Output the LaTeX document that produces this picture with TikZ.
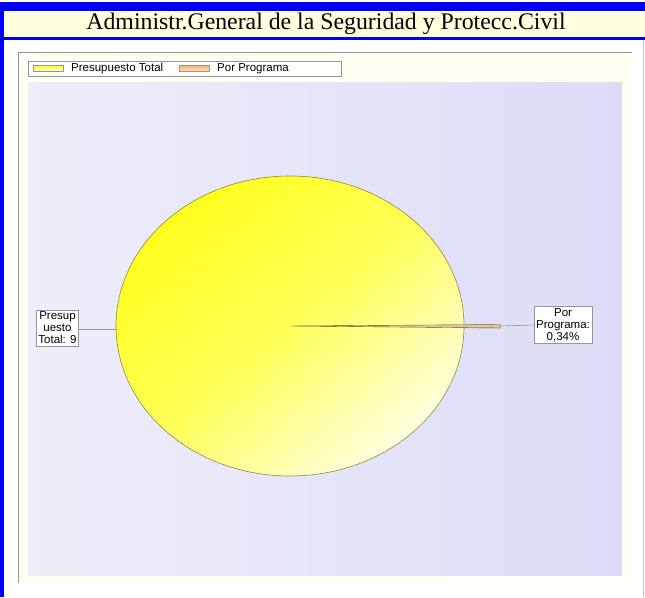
\documentclass[tikz,border=0pt]{standalone}
\usepackage{fontspec}
\setmainfont{Liberation Serif}
\setsansfont{Liberation Sans}
\usepackage{tikz}
\usetikzlibrary{positioning,calc}
\definecolor{frameblue}{RGB}{0,0,250}
\definecolor{titlecream}{RGB}{255,255,222}
\definecolor{panelcream}{RGB}{255,255,242}
\definecolor{plotlav}{RGB}{238,238,250}
\definecolor{plotlavdark}{RGB}{220,220,248}
\definecolor{pieyellow}{RGB}{255,255,30}
\definecolor{piepale}{RGB}{255,255,225}
\definecolor{slicetan}{RGB}{232,200,140}
\definecolor{edgegray}{RGB}{150,150,150}

\begin{document}
\begin{tikzpicture}[
    x=1pt, y=-1pt,
    lbl/.style={rectangle, draw=edgegray, fill=white, font=\fontsize{11.5}{12}\selectfont\sffamily, align=center, inner sep=2pt},
    swatch/.style={rectangle, draw=edgegray, minimum width=30pt, minimum height=6pt, inner sep=0pt},
    legtext/.style={font=\fontsize{11.5}{12}\selectfont\sffamily, anchor=west, inner sep=0pt},
    leader/.style={draw=edgegray, line width=0.6pt}
]
\useasboundingbox (0,0) rectangle (645,597);
\fill[white] (0,0) rectangle (645,597);

% frame and title
\fill[frameblue] (0,2) rectangle (645,11);
\fill[titlecream] (4,11) rectangle (645,37);
\fill[frameblue] (4,37) rectangle (645,40);
\fill[frameblue] (0,2) rectangle (4,597);
\draw[plotlav!60!gray, line width=0.8pt] (643.5,40) -- (643.5,597);
\node[font=\fontsize{23.8}{27}\selectfont] (title) at (326,24) {Administr.General de la Seguridad y Protecc.Civil};

% chart panel
\fill[panelcream] (18,52) rectangle (632,583);
\draw[edgegray, line width=1pt] (18,583) -- (18,52) -- (632,52);
\shade[left color=plotlav, right color=plotlavdark] (28,82) rectangle (622,575);

% legend
\node[draw=edgegray, fill=white, minimum width=313pt, minimum height=15pt, inner sep=0pt] (legend) at (184.5,68.5) {};
\node[swatch, left color=pieyellow, right color=piepale, shading angle=0] (sw1) at (48,68.5) {};
\node[legtext] (lg1) at (71,68.5) {Presupuesto Total};
\node[swatch, left color=orange!60, right color=slicetan!50, shading angle=0] (sw2) at (194,68.5) {};
\node[legtext] (lg2) at (217,68.5) {Por Programa};

% pie
\coordinate (pc) at (290,326);
\shade[top color=pieyellow, bottom color=piepale, middle color=pieyellow!70!piepale, shading angle=40]
    (pc) ellipse [x radius=174, y radius=150];
\draw[olive!60!gray, line width=0.6pt] (pc) ellipse [x radius=174, y radius=150];
\coordinate (tipa) at (500,324.5);
\coordinate (tipb) at (500,328);
\filldraw[fill=slicetan, draw=olive!50!black, line width=0.4pt] (pc) -- (tipa) -- (tipb) -- cycle;
\draw[edgegray, line width=0.5pt] (464,324.8) -- (tipa) -- (tipb) -- (464,327.8);

% labels
\node[lbl] (ltotal) at (57.5,328) {Presup\\uesto\\Total: 9};
\node[lbl, anchor=west] (lprog) at (534,325) {Por\\Programa:\\0,34\%};
\coordinate (pieleft) at (116,329);
\coordinate (sliceend) at (500,326);
\draw[leader] (ltotal.east |- pieleft) -- (pieleft);
\draw[leader] (sliceend) -- (lprog.west);
\end{tikzpicture}
\end{document}
